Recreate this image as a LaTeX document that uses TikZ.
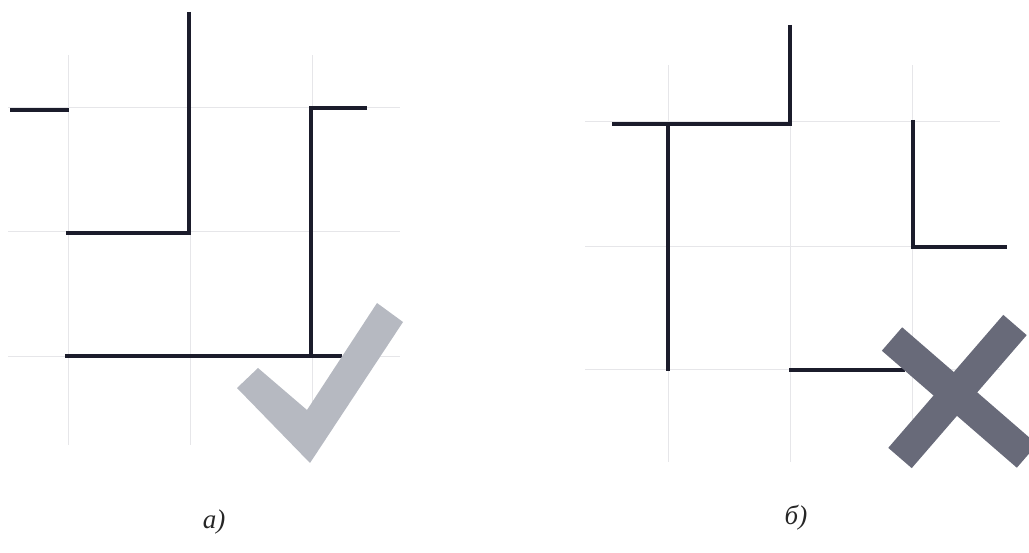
\documentclass[tikz,border=0pt]{standalone}
\usepackage{fontspec}
\usetikzlibrary{calc}
\newfontfamily\labelfont{Liberation Serif}
\definecolor{wall}{HTML}{1B1C2B}
\definecolor{gridc}{HTML}{E6E6E9}
\definecolor{checkc}{HTML}{B6B9C1}
\definecolor{crossc}{HTML}{686A79}
\tikzset{
  wallline/.style={draw=wall, line width=4.8pt, line cap=butt, line join=miter},
  gridline/.style={draw=gridc, line width=1pt},
  caption/.style={font=\labelfont\itshape\fontsize{27}{30}\selectfont, inner sep=0pt, text=black!85}
}
\begin{document}
\begin{tikzpicture}[x=1pt,y=-1pt]
\useasboundingbox (0,0) rectangle (1029,553);
\clip (0,0) rectangle (1029,553);
% ---------- panel a: grid ----------
\foreach \gx in {68,190,312} \draw[gridline] (\gx,55) -- (\gx,445);
\foreach \gy in {108,232,357} \draw[gridline] (8,\gy) -- (400,\gy);
% ---------- panel a: walls ----------
\draw[wallline] (10,110) -- (69,110);
\draw[wallline] (189,12) -- (189,233) -- (66,233);
\draw[wallline] (367,108) -- (311,108) -- (311,356);
\draw[wallline] (65,356) -- (342,356);
% ---------- check mark ----------
\fill[checkc] (258,368) -- (307,410) -- (377,303) -- (403,322) -- (310,463) -- (237,388) -- cycle;
% ---------- panel b: grid ----------
\foreach \gx in {668,790,912} \draw[gridline] (\gx,65) -- (\gx,462);
\foreach \gy in {122,247,370} \draw[gridline] (585,\gy) -- (1000,\gy);
% ---------- panel b: walls ----------
\draw[wallline] (790,25) -- (790,124) -- (612,124);
\draw[wallline] (668,124) -- (668,371);
\draw[wallline] (913,120) -- (913,247) -- (1007,247);
\draw[wallline] (789,370) -- (905,370);
% ---------- cross ----------
\coordinate (xc) at (955,394);
\draw[crossc, line width=31pt, line cap=butt] ($(xc)+(-63,-55)$) -- ($(xc)+(72,62)$);
\draw[crossc, line width=31pt, line cap=butt] ($(xc)+(-55,64)$) -- ($(xc)+(60,-69)$);
% ---------- captions ----------
\node[caption] (capa) at (214,522) {а)};
\node[caption] (capb) at (796,518) {б)};
\end{tikzpicture}
\end{document}
